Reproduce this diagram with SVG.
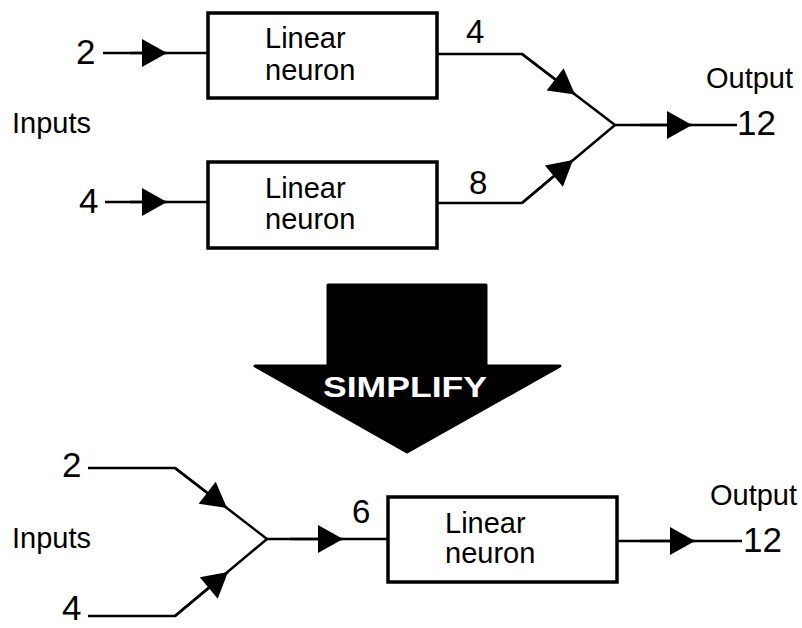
<svg xmlns="http://www.w3.org/2000/svg" width="802" height="628" viewBox="0 0 802 628">
<style>
.t{font-family:"Liberation Sans",Arial,sans-serif;font-size:29px;fill:#000}
.n{font-family:"Liberation Sans",Arial,sans-serif;font-size:35px;fill:#000}
.m{font-family:"Liberation Sans",Arial,sans-serif;font-size:33px;fill:#000}
.box{fill:#fff;stroke:#000;stroke-width:3.5}
.ln{fill:none;stroke:#000;stroke-width:2.5}
.ar{fill:none;stroke:#000;stroke-width:2.5;marker-end:url(#ah)}
</style>
<defs>
<marker id="ah" markerUnits="userSpaceOnUse" markerWidth="30" markerHeight="30" viewBox="-1 -15 27 30" refX="25" refY="0" orient="auto">
<path d="M0,-14 L25,0 L0,14 Z" fill="#000"/>
</marker>
</defs>
<g id="connectors">
<path class="ln" d="M103,53 L208,53"/>
<path class="ar" d="M130,53 L167,53"/>
<path class="ln" d="M105,202 L208,202"/>
<path class="ar" d="M130,202 L167,202"/>
<path class="ln" d="M437,54 L522,54 L615,125"/>
<path class="ar" d="M522,54 L575,94.5"/>
<path class="ln" d="M437,203 L522,203 L615,125"/>
<path class="ar" d="M522,203 L573,160"/>
<path class="ln" d="M615,125 L737,125"/>
<path class="ar" d="M640,125 L692,125"/>
<path class="ln" d="M88,468 L175,468 L267,539"/>
<path class="ar" d="M175,468 L227,508"/>
<path class="ln" d="M88,616 L175,616 L267,539"/>
<path class="ar" d="M175,616 L228,572"/>
<path class="ln" d="M267,539 L388,539"/>
<path class="ar" d="M290,539 L343,539"/>
<path class="ln" d="M617,541 L742,541"/>
<path class="ar" d="M640,541 L695,541"/>
</g>
<g id="neuron1">
<rect class="box" x="208" y="13" width="229" height="85"/>
<text class="t" x="265" y="48">Linear</text>
<text class="t" x="265" y="80">neuron</text>
</g>
<g id="neuron2">
<rect class="box" x="208" y="162" width="229" height="86"/>
<text class="t" x="265" y="198">Linear</text>
<text class="t" x="265" y="229">neuron</text>
</g>
<g id="neuron3">
<rect class="box" x="388" y="497" width="229" height="85"/>
<text class="t" x="445" y="533">Linear</text>
<text class="t" x="445" y="563">neuron</text>
</g>
<g id="labels">
<text class="n" x="76" y="64">2</text>
<text class="n" x="79" y="213">4</text>
<text class="t" x="12" y="133">Inputs</text>
<text class="m" x="466" y="43">4</text>
<text class="m" x="469" y="194">8</text>
<text class="t" x="706" y="88">Output</text>
<text class="n" x="737" y="135">12</text>
<text class="n" x="62" y="477">2</text>
<text class="n" x="62" y="620">4</text>
<text class="t" x="12" y="548">Inputs</text>
<text class="m" x="352" y="523">6</text>
<text class="t" x="710" y="505">Output</text>
<text class="n" x="743" y="552">12</text>
</g>
<g id="simplify">
<path d="M328,285 L486,285 L486,366 L560,366 L407,452 L255,366 L328,366 Z" fill="#000" stroke="#000" stroke-width="3" stroke-linejoin="round"/>
<text x="323" y="397" textLength="164" lengthAdjust="spacingAndGlyphs" style="font-family:'Liberation Sans',Arial,sans-serif;font-size:30px;font-weight:bold;fill:#fff">SIMPLIFY</text>
</g>
</svg>
